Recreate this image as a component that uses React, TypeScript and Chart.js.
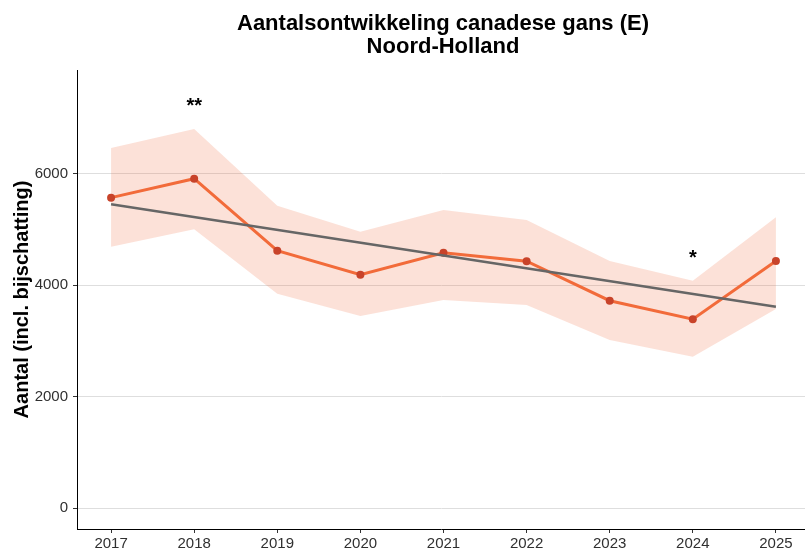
import React, { useEffect, useRef } from "react";
import { Chart, registerables } from "chart.js";

Chart.register(...registerables);

const titleLines = ["Aantalsontwikkeling canadese gans (E)", "Noord-Holland"];
const yAxisTitle = "Aantal (incl. bijschatting)";

const years = [2017, 2018, 2019, 2020, 2021, 2022, 2023, 2024, 2025];
const counts = [5570, 5910, 4620, 4190, 4583, 4430, 3722, 3390, 4434];
const upperBand = [6460, 6800, 5426, 4960, 5350, 5170, 4436, 4081, 5217];
const lowerBand = [4691, 5002, 3845, 3448, 3735, 3645, 3020, 2718, 3573];

const trendYears = [2017, 2025];
const trendValues = [5453, 3615];

const yTicks = [0, 2000, 4000, 6000];

const markYears = [2018, 2024];
const markValues = [7310, 4570];
const markLabels = ["**", "*"];

const FONT = "'Liberation Sans', Arial, sans-serif";

export default function App() {
  const ref = useRef<HTMLCanvasElement | null>(null);

  useEffect(() => {
    const canvas = ref.current;
    if (!canvas) return;

    const overlay = {
      id: "overlay",
      afterDatasetsDraw(chart: any) {
        const ctx = chart.ctx;
        const xs = chart.scales.x;
        const ys = chart.scales.y;
        ctx.save();
        ctx.fillStyle = "#000";
        ctx.textAlign = "center";
        ctx.textBaseline = "alphabetic";
        ctx.font = `bold 20px ${FONT}`;
        markYears.forEach((yr, i) => {
          const px = xs.getPixelForValue(yr);
          const py = ys.getPixelForValue(markValues[i]);
          ctx.fillText(markLabels[i], px, py + 11);
        });
        ctx.restore();
      },
      afterDraw(chart: any) {
        const ctx = chart.ctx;
        const area = chart.chartArea;
        const cx = (area.left + area.right) / 2 + 2;
        ctx.save();
        ctx.fillStyle = "#000";
        ctx.textAlign = "center";
        ctx.textBaseline = "middle";
        ctx.font = `bold 22px ${FONT}`;
        ctx.fillText(titleLines[0], cx, 24);
        ctx.fillText(titleLines[1], cx, 47);
        ctx.restore();
      },
    };

    const chart = new Chart(canvas, {
      type: "line",
      data: {
        datasets: [
          {
            label: "upper",
            data: years.map((y, i) => ({ x: y, y: upperBand[i] })),
            borderColor: "rgba(0,0,0,0)",
            borderWidth: 0,
            pointRadius: 0,
            fill: "+1",
            backgroundColor: "rgba(242,107,58,0.2)",
            order: 5,
          },
          {
            label: "lower",
            data: years.map((y, i) => ({ x: y, y: lowerBand[i] })),
            borderColor: "rgba(0,0,0,0)",
            borderWidth: 0,
            pointRadius: 0,
            fill: false,
            order: 4,
          },
          {
            label: "trend",
            data: trendYears.map((y, i) => ({ x: y, y: trendValues[i] })),
            borderColor: "#666666",
            borderWidth: 2.5,
            pointRadius: 0,
            fill: false,
            order: 2,
          },
          {
            label: "aantal",
            data: years.map((y, i) => ({ x: y, y: counts[i] })),
            borderColor: "#F26B3A",
            borderWidth: 3,
            pointRadius: 4,
            pointBackgroundColor: "#C8432A",
            pointBorderColor: "#C8432A",
            pointBorderWidth: 0,
            fill: false,
            order: 3,
          },
        ],
      },
      options: {
        responsive: false,
        animation: false,
        layout: { autoPadding: false, padding: { top: 70, left: 0, right: 0, bottom: 0 } },
        plugins: {
          legend: { display: false },
          tooltip: { enabled: false },
          title: { display: false },
        },
        scales: {
          x: {
            type: "linear",
            min: 2016.59,
            max: 2025.35,
            afterBuildTicks: (scale: any) => {
              scale.ticks = years.map((v) => ({ value: v }));
            },
            afterFit: (scale: any) => {
              scale.height = 23;
              scale.paddingLeft = 0;
              scale.paddingRight = 0;
            },
            grid: {
              drawOnChartArea: false,
              drawTicks: true,
              tickLength: 4,
              tickColor: "#333333",
              tickWidth: 1,
            },
            border: { display: true, color: "#000000", width: 1 },
            ticks: {
              padding: 2,
              autoSkip: false,
              maxRotation: 0,
              color: "#303030",
              font: { family: FONT, size: 15 },
              callback: (v: any) => String(v),
            },
          },
          y: {
            type: "linear",
            min: -371,
            max: 7859,
            afterBuildTicks: (scale: any) => {
              scale.ticks = yTicks.map((v) => ({ value: v }));
            },
            afterFit: (scale: any) => {
              scale.width = 77;
              scale.paddingTop = 0;
              scale.paddingBottom = 0;
            },
            grid: {
              color: "#DEDEDE",
              lineWidth: 1,
              drawTicks: true,
              tickLength: 4,
              tickColor: "#333333",
              tickWidth: 1,
            },
            border: { display: true, color: "#000000", width: 1 },
            ticks: {
              padding: 5,
              color: "#303030",
              font: { family: FONT, size: 15 },
              callback: (v: any) => String(v),
            },
            title: {
              display: true,
              text: yAxisTitle,
              color: "#000",
              font: { family: FONT, size: 20, weight: "bold" },
              padding: { top: 10, bottom: 0 },
            },
          },
        },
      },
      plugins: [overlay],
    } as any);

    return () => chart.destroy();
  }, []);

  return (
    <div style={{ position: "fixed", left: 0, top: 0, width: 805, height: 552, background: "#fff" }}>
      <canvas ref={ref} width={805} height={552} style={{ display: "block" }} />
    </div>
  );
}
